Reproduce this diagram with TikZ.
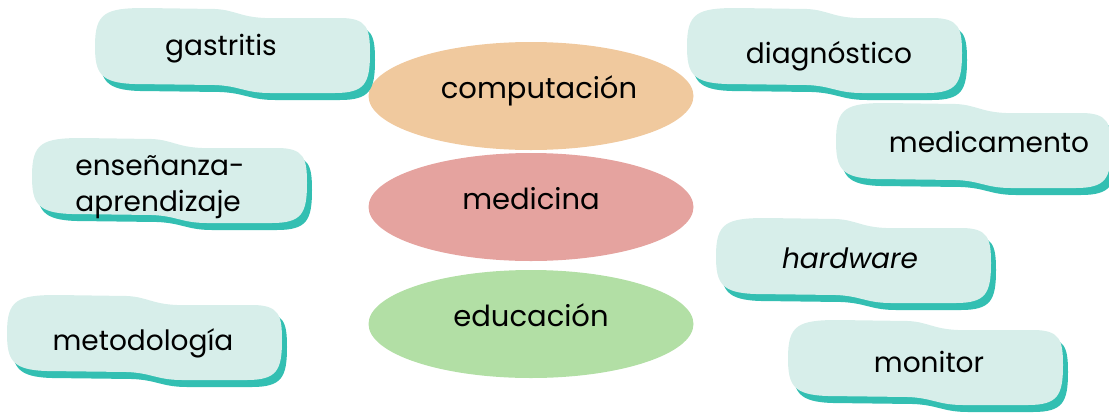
\documentclass[tikz,border=0pt]{standalone}
\usepackage{fontspec}
\setmainfont{Poppins}
\usepackage{tikz}
\usetikzlibrary{shapes.geometric}

\definecolor{boxfill}{HTML}{D7EEEA}
\definecolor{boxshadow}{HTML}{33BFB2}
\definecolor{compfill}{HTML}{F0C99E}
\definecolor{medfill}{HTML}{E5A39F}
\definecolor{edufill}{HTML}{B2DFA5}

\tikzset{
  blob/.pic={
    \foreach \col/\dx/\dy in {boxshadow/5/7, boxfill/0/0}
      \fill[\col, shift={(\dx,\dy)}] (0,38) .. controls (0,5) and (10,0) .. (50,0) -- (120,1)
        .. controls (140,2) and (145,9) .. (170,10) -- (245,10)
        .. controls (272,10) and (275,20) .. (275,45)
        .. controls (275,75) and (270,85) .. (240,85) -- (175,85)
        .. controls (150,85) and (145,78) .. (120,77) -- (40,76)
        .. controls (5,75) and (0,65) .. (0,38) -- cycle;
  },
  word/.style={font=\fontsize{28}{36}\selectfont, inner sep=0pt, anchor=base, align=left},
  topic/.style={ellipse, minimum width=325, minimum height=108, inner sep=0pt,
    font=\fontsize{29}{36}\selectfont, text height=0.7em, text depth=0.25em}
}

\begin{document}
\begin{tikzpicture}[x=1pt, y=-1pt]
  \useasboundingbox (0,0) rectangle (1109,413);
  % centre ellipses
  \node[topic, fill=compfill] (comp) at (531,96)  {\hspace{16pt}computación};
  \node[topic, fill=medfill]  (med)  at (531,207) {medicina};
  \node[topic, fill=edufill]  (edu)  at (531,324) {educación};
  % side boxes
  \foreach \bx/\by/\tx/\ty/\nm/\txt in {
      95/8/221/55/gastritis/gastritis,
      687/8/829/63/diagnostico/diagnóstico,
      836/103/989/152/medicamento/medicamento,
      32/138/160/211/ensenanza/{enseñanza-\\aprendizaje},
      716/218/850/268/hardware/{\itshape hardware},
      7/295/143/350/metodologia/metodología,
      788/320/929/372/monitor/monitor}
  {
    \pic at (\bx,\by) {blob};
    \node[word] (\nm) at (\tx,\ty) {\txt};
  }
\end{tikzpicture}
\end{document}
